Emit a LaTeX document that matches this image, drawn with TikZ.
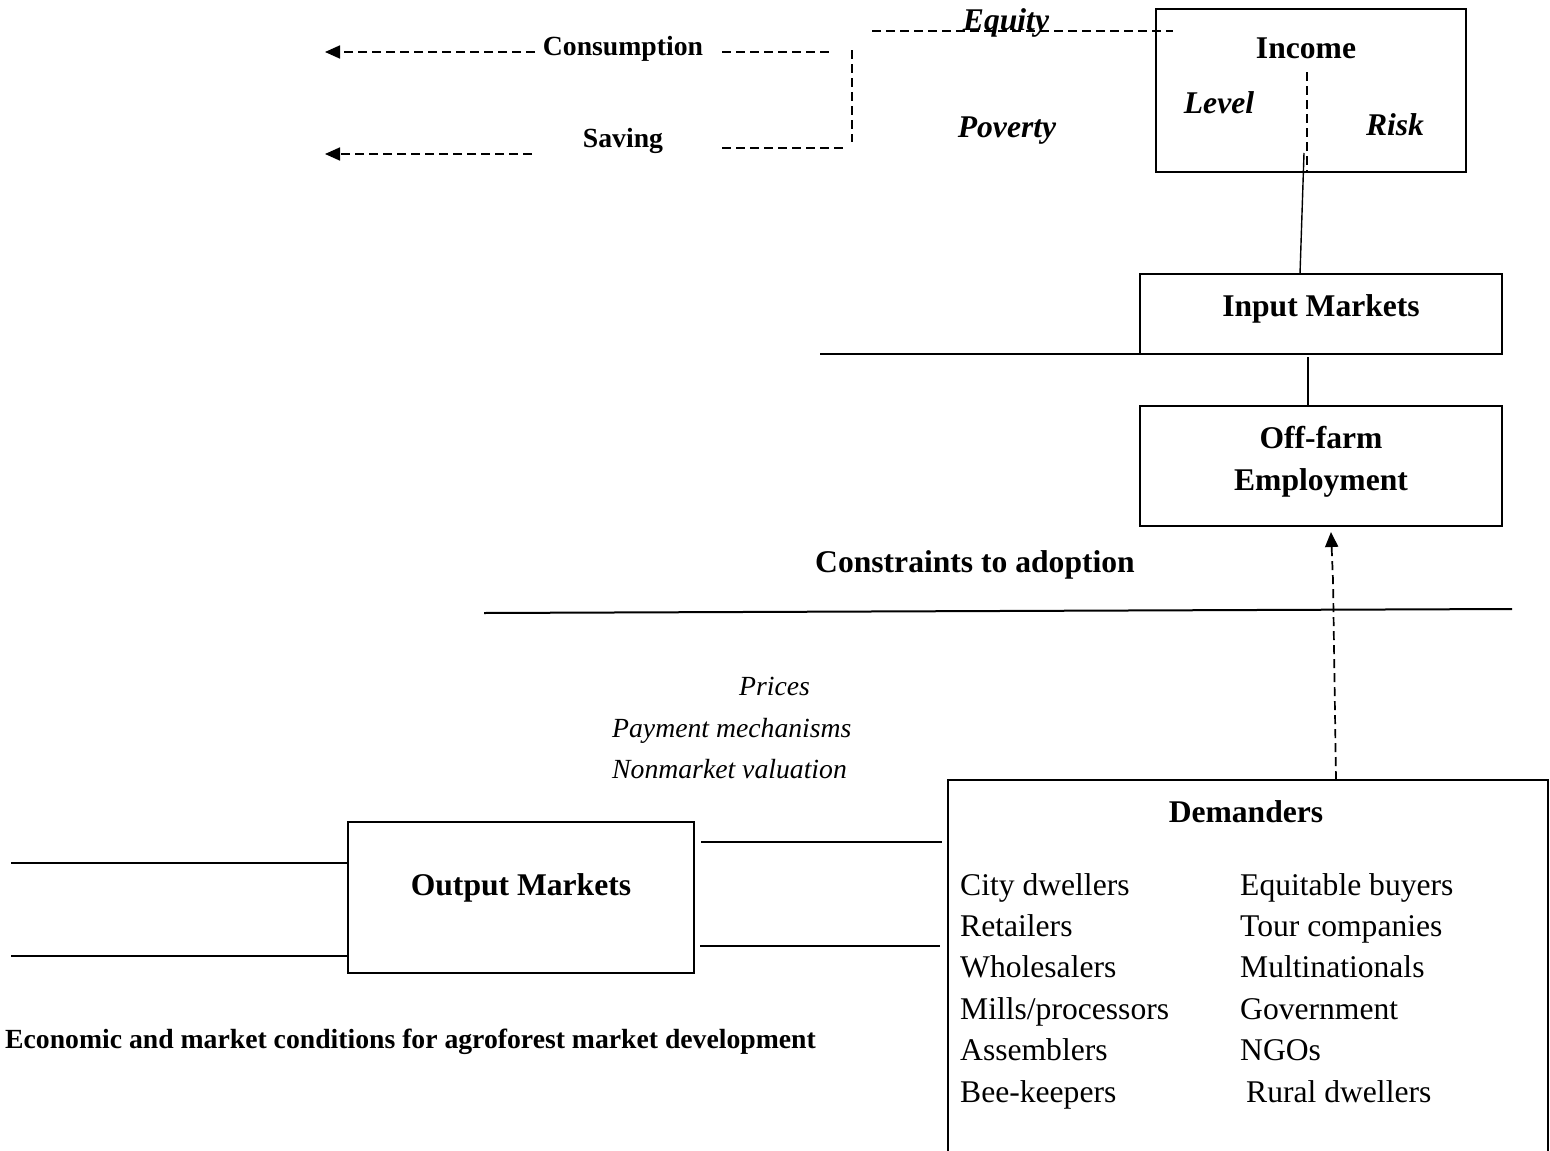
\documentclass[tikz,border=0pt]{standalone}
\usepackage{fontspec}
\setmainfont{Liberation Serif}
\usetikzlibrary{arrows.meta}
\begin{document}
\begin{tikzpicture}[x=1pt,y=-1pt,
  box/.style={draw, line width=2pt, inner sep=0pt, outer sep=0pt},
  ln/.style={line width=2pt},
  dsh/.style={line width=1.7pt, dash pattern=on 9pt off 5pt},
  tipA/.style={-{Triangle[length=15pt,width=13pt]}},
  bigB/.style={font=\fontsize{31.6}{38}\selectfont\bfseries, inner sep=0pt},
  bigBI/.style={font=\fontsize{31.6}{38}\selectfont\bfseries\itshape, inner sep=0pt},
  smB/.style={font=\fontsize{27.7}{33}\selectfont\bfseries, inner sep=0pt},
  smI/.style={font=\fontsize{27.7}{33}\selectfont\itshape, inner sep=0pt},
  reg/.style={font=\fontsize{31.6}{38}\selectfont, inner sep=0pt, anchor=base west}
]
\useasboundingbox (0,0) rectangle (1550,1151);

% ---- boxes
\node[box, minimum width=310pt, minimum height=163pt] (income) at (1311,90.5) {};
\node[box, minimum width=362pt, minimum height=80pt] (input) at (1321,314) {};
\node[box, minimum width=362pt, minimum height=120pt] (offfarm) at (1321,466) {};
\node[box, minimum width=346pt, minimum height=151pt] (output) at (521,897.5) {};
\node[inner sep=0pt, outer sep=0pt, minimum width=600pt, minimum height=375pt] (dem) at (1248,967.5) {};
\draw[ln] (dem.south west) |- (dem.north east) -- (dem.south east);

% ---- texts
\node[smB, anchor=base] (cons) at (623,55) {Consumption};
\node[smB, anchor=base] (sav) at (623,147) {Saving};
\node[bigBI, anchor=base] (equity) at (1006,30) {Equity};
\node[bigBI, anchor=base] (poverty) at (1007,137) {Poverty};
\node[bigB, anchor=base] (incomeT) at (1306,58) {Income};
\node[bigBI, anchor=base] (level) at (1219,113) {Level};
\node[bigBI, anchor=base] (risk) at (1395,135) {Risk};
\node[bigB, anchor=base] (inputT) at (1321,316) {Input Markets};
\node[bigB, anchor=base] (off1) at (1321,448) {Off-farm};
\node[bigB, anchor=base] (off2) at (1321,490) {Employment};
\node[bigB, anchor=base] (constr) at (975,572) {Constraints to adoption};
\node[smI, anchor=base west] (prices) at (739,695) {Prices};
\node[smI, anchor=base west] (payment) at (612,737) {Payment mechanisms};
\node[smI, anchor=base west] (nonmkt) at (612,778) {Nonmarket valuation};
\node[bigB, anchor=base] (demT) at (1246,822) {Demanders};
\node[bigB, anchor=base] (outputT) at (521,895) {Output Markets};
\node[smB, anchor=base west] (caption) at (5,1048) {Economic and market conditions for agroforest market development};

\node[reg] (l1) at (960,895) {City dwellers};
\node[reg] (l2) at (960,936.4) {Retailers};
\node[reg] (l3) at (960,977.8) {Wholesalers};
\node[reg] (l4) at (960,1019.2) {Mills/processors};
\node[reg] (l5) at (960,1060.6) {Assemblers};
\node[reg] (l6) at (960,1102) {Bee-keepers};
\node[reg] (r1) at (1240,895) {Equitable buyers};
\node[reg] (r2) at (1240,936.4) {Tour companies};
\node[reg] (r3) at (1240,977.8) {Multinationals};
\node[reg] (r4) at (1240,1019.2) {Government};
\node[reg] (r5) at (1240,1060.6) {NGOs};
\node[reg] (r6) at (1246,1102) {Rural dwellers};

% ---- coordinates for free ends
\coordinate (consA) at (535,52);
\coordinate (consB) at (325,52);
\coordinate (consC) at (722,52);
\coordinate (consD) at (829,52);
\coordinate (vTop) at (852,50);
\coordinate (vBot) at (852,142);
\coordinate (savA) at (532,154);
\coordinate (savB) at (325,154);
\coordinate (savC) at (722,148);
\coordinate (savD) at (846,148);
\coordinate (eqA) at (872,31);
\coordinate (eqB) at (1173,31);
\coordinate (incDash) at (1307,72);
\coordinate (incSolid) at (1304,153);
\coordinate (inL) at (820,354);
\coordinate (kink) at (1333,580);
\coordinate (cA) at (484,613);
\coordinate (cB) at (1512,609);
\coordinate (oL1) at (11,863);
\coordinate (oL2) at (11,956);
\coordinate (oR1a) at (701,842);
\coordinate (oR1b) at (942,842);
\coordinate (oR2a) at (700,946);
\coordinate (oR2b) at (940,946);

% ---- connectors
\draw[dsh, tipA] (consA) -- (consB);
\draw[dsh] (consC) -- (consD);
\draw[dsh] (vTop) -- (vBot);
\draw[dsh, tipA] (savA) -- (savB);
\draw[dsh] (savC) -- (savD);
\draw[dsh] (eqA) -- (eqB);
\draw[dsh] (incDash) -- (incDash |- income.south);
\draw[line width=1.4pt] (incSolid) -- ([xshift=-21pt]input.north);
\draw[ln] (inL) -- (input.south west);
\draw[line width=1.6pt] ([xshift=-13pt,yshift=-3pt]input.south) -- ([xshift=-13pt]offfarm.north);
\draw[dsh, tipA] ([xshift=88pt]dem.north) -- (kink) -- ([xshift=10pt,yshift=-6pt]offfarm.south);
\draw[ln] (cA) -- (cB);
\draw[ln] (oL1) -- (oL1 -| output.west);
\draw[ln] (oL2) -- (oL2 -| output.west);
\draw[ln] (oR1a) -- (oR1b);
\draw[ln] (oR2a) -- (oR2b);
\end{tikzpicture}
\end{document}
